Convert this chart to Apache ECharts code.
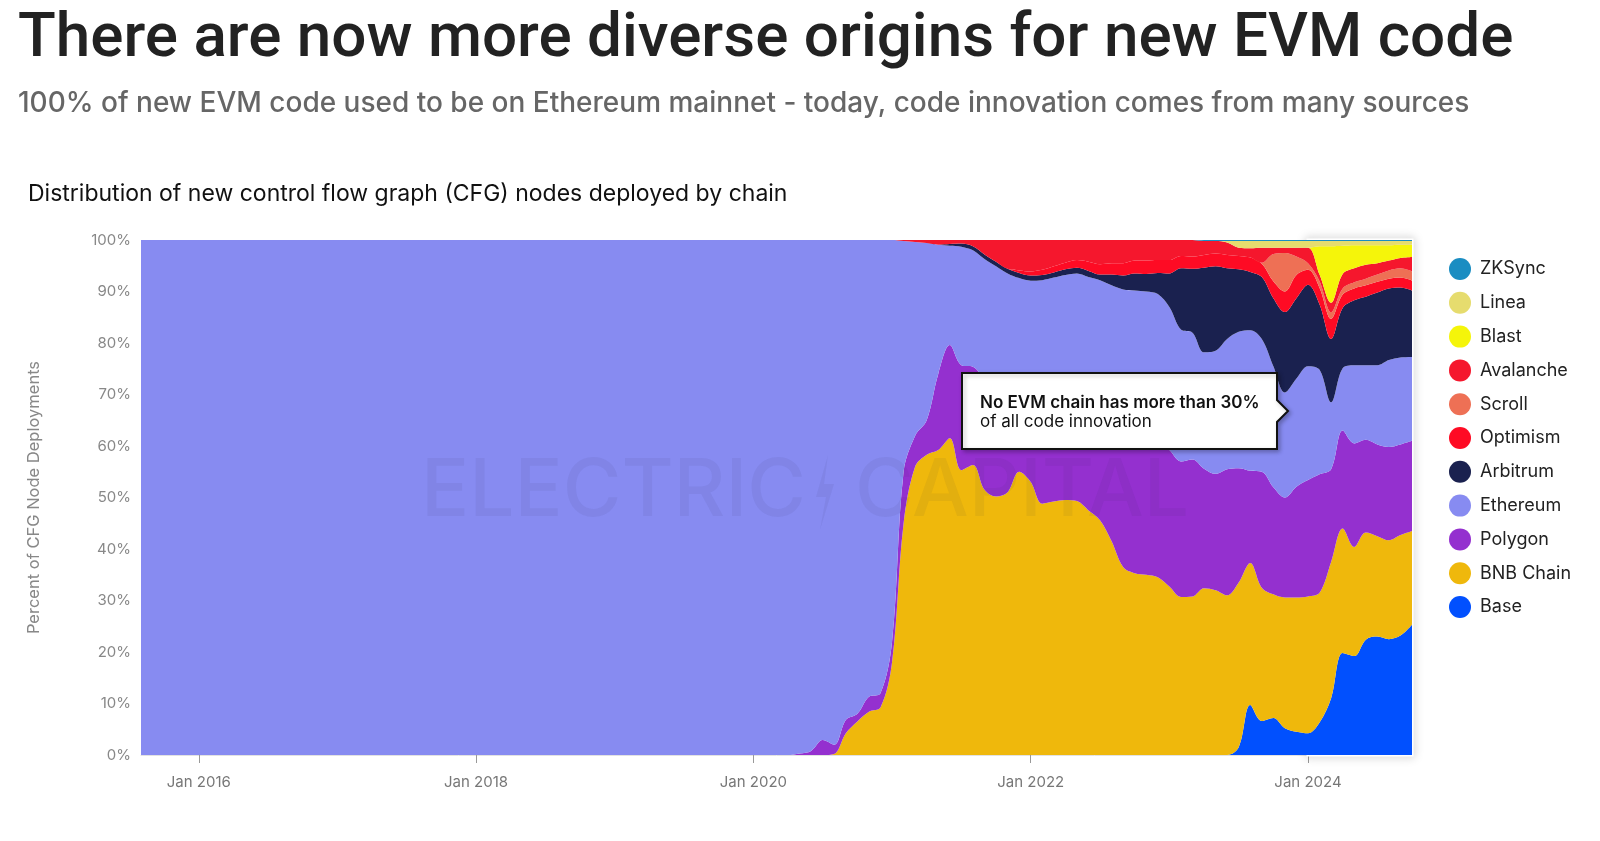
<!DOCTYPE html>
<html>
<head>
<meta charset="utf-8">
<title>New EVM code origins</title>
<script src="https://cdn.jsdelivr.net/npm/echarts@6/dist/echarts.min.js"></script>
<style>
  html, body { margin: 0; padding: 0; background: #fff; }
  #main { width: 1600px; height: 841px; }
</style>
</head>
<body>
<div id="main"></div>
<script>
// axis categories: one per month, Aug 2015 .. Oct 2024
var months = [];
for (var y = 2015; y <= 2024; y++) {
    for (var m = 1; m <= 12; m++) {
        if (y === 2015 && m < 8) continue;
        if (y === 2024 && m > 10) break;
        months.push(y + '-' + (m < 10 ? '0' + m : m));
    }
}
var tickMonths = ['2016-01', '2018-01', '2020-01', '2022-01', '2024-01'];

// two anchor points before 2020, then monthly from Jan 2020
var dates = ['2015-08', '2019-12'].concat(months.slice(months.indexOf('2020-01')));

// share of new CFG nodes per chain, in %
// layout: [2015-08, 2019-12], then 2020 (12), 2021 (12), 2022 (12), 2023 (12), 2024 (Jan-Oct)
var base = [0, 0,
    0, 0, 0, 0, 0, 0, 0, 0, 0, 0, 0, 0,
    0, 0, 0, 0, 0, 0, 0, 0, 0, 0, 0, 0,
    0, 0, 0, 0, 0, 0, 0, 0, 0, 0, 0, 0,
    0, 0, 0, 0, 0, 0, 1.5, 9.7, 6.6, 7.2, 5.2, 4.5,
    4.2, 6.3, 11, 19.8, 19.2, 22.4, 23, 22.5, 23.2, 25.3];
var bnb = [0, 0,
    0, 0, 0, 0, 0, 0, 0, 0.2, 4.2, 6.5, 8.4, 9.2,
    18, 45, 56, 58.3, 59.2, 61.5, 55.3, 56.3, 51.5, 50.2, 51, 55,
    53, 48.8, 49.2, 49.5, 49.3, 47.5, 45.6, 41.5, 36.5, 35.3, 35, 34.5,
    32.7, 30.7, 30.8, 32.4, 32, 31, 32, 27.6, 25.9, 24, 25.4, 26.1,
    26.6, 25.2, 26.5, 24.2, 21.2, 20.8, 19.5, 19.2, 19.5, 18.2];
var polygon = [0, 0,
    0, 0, 0, 0, 0.3, 0.8, 2.9, 1.8, 2.6, 1.5, 2.9, 2.8,
    4, 10, 6, 6.7, 14.8, 18.1, 20.4, 19.1, 21.5, 20.8, 18, 13,
    14, 18.7, 16.8, 16, 16.7, 17.5, 18.4, 22, 26.5, 27.2, 27, 26.5,
    26.5, 26.3, 26.6, 23.2, 22.6, 24.5, 22.2, 17.9, 22.5, 20.8, 19.4, 21.5,
    22.6, 23, 18, 19, 20.1, 18, 17.8, 18.1, 17.6, 17.5];
var ethereum = [100, 100,
    100, 100, 100, 100, 99.7, 99.2, 97.1, 98, 93.2, 92, 88.7, 88,
    78, 44.8, 37.6, 34.4, 25.1, 19.3, 23, 22.6, 23.3, 23.9, 24.5, 24.6,
    25.1, 24.7, 26.7, 27.7, 27.5, 27.8, 28.2, 27.7, 27.4, 27.7, 28, 28.5,
    27.8, 25.6, 24.6, 22.6, 23.9, 25.3, 26.5, 27.3, 25.8, 23.5, 20.4, 21,
    22.1, 20.3, 13, 12.1, 15.2, 14.5, 15.4, 16.9, 16.9, 16.3];
var arbitrum = [0, 0,
    0, 0, 0, 0, 0, 0, 0, 0, 0, 0, 0, 0,
    0, 0, 0, 0, 0, 0.3, 0.6, 0.8, 0.9, 0.9, 0.9, 1.0,
    1.0, 1.0, 1.0, 1.1, 1.1, 1.2, 1.1, 2.1, 2.7, 3.3, 3.4, 4.1,
    6.5, 11.9, 12.4, 16.4, 16.4, 13.7, 12.1, 11.3, 12, 13.2, 15.6, 15.6,
    15.8, 12.7, 12.3, 11.7, 12.6, 13.3, 14.1, 13.9, 13.6, 12.9];
var optimism = [0, 0,
    0, 0, 0, 0, 0, 0, 0, 0, 0, 0, 0, 0,
    0, 0, 0, 0, 0, 0, 0, 0, 0, 0, 0, 0.5,
    0.8, 1, 1.2, 1.3, 1.5, 1.8, 2, 2.2, 2.4, 2.5, 2.6, 2.5,
    2.6, 2.4, 2.4, 2.5, 2.5, 2.6, 2.6, 2.8, 2.6, 3.3, 4, 4.5,
    2.9, 3.2, 3.9, 2.6, 2.3, 2.2, 2.1, 1.9, 1.9, 1.9];
var scroll = [0, 0,
    0, 0, 0, 0, 0, 0, 0, 0, 0, 0, 0, 0,
    0, 0, 0, 0, 0, 0, 0, 0, 0, 0, 0, 0,
    0, 0, 0, 0, 0, 0, 0, 0, 0, 0, 0, 0,
    0, 0, 0, 0, 0, 0, 0, 0, 0.2, 5.3, 7.5, 3.6,
    1.3, 1.3, 1.3, 1.2, 1.2, 1.3, 1.4, 1.6, 1.8, 1.8];
var avalanche = [0, 0,
    0, 0, 0, 0, 0, 0, 0, 0, 0, 0, 0, 0,
    0, 0.2, 0.4, 0.6, 0.9, 0.8, 0.7, 1.2, 2.8, 4.2, 5.6, 5.9,
    6.1, 5.8, 5.1, 4.4, 3.9, 4.2, 4.7, 4.5, 4.5, 4.0, 4.0, 3.9,
    3.9, 3.1, 3.2, 2.7, 2.4, 2.4, 1.6, 1.8, 2.9, 1.2, 1.0, 1.7,
    3.0, 1.3, 1.8, 2.8, 2.7, 2.7, 2.2, 1.9, 2.0, 2.8];
var blast = [0, 0,
    0, 0, 0, 0, 0, 0, 0, 0, 0, 0, 0, 0,
    0, 0, 0, 0, 0, 0, 0, 0, 0, 0, 0, 0,
    0, 0, 0, 0, 0, 0, 0, 0, 0, 0, 0, 0,
    0, 0, 0, 0, 0, 0, 0, 0, 0, 0, 0, 0,
    0, 5.5, 11, 5.5, 4.5, 3.8, 3.5, 3, 2.6, 2.4];
var linea = [0, 0,
    0, 0, 0, 0, 0, 0, 0, 0, 0, 0, 0, 0,
    0, 0, 0, 0, 0, 0, 0, 0, 0, 0, 0, 0,
    0, 0, 0, 0, 0, 0, 0, 0, 0, 0, 0, 0,
    0, 0, 0, 0, 0, 0.3, 1.3, 1.4, 1.3, 1.3, 1.3, 1.3,
    1.3, 1, 1, 0.9, 0.8, 0.8, 0.8, 0.8, 0.7, 0.7];
var zksync = [0, 0,
    0, 0, 0, 0, 0, 0, 0, 0, 0, 0, 0, 0,
    0, 0, 0, 0, 0, 0, 0, 0, 0, 0, 0, 0,
    0, 0, 0, 0, 0, 0, 0, 0, 0, 0, 0, 0,
    0, 0, 0, 0.2, 0.2, 0.2, 0.2, 0.2, 0.2, 0.2, 0.2, 0.2,
    0.2, 0.2, 0.2, 0.2, 0.2, 0.2, 0.2, 0.2, 0.2, 0.2];

// bottom of the stack first
var chains = ['Base', 'BNB Chain', 'Polygon', 'Ethereum', 'Arbitrum', 'Optimism', 'Scroll', 'Avalanche', 'Blast', 'Linea', 'ZKSync'];
var shares = [base, bnb, polygon, ethereum, arbitrum, optimism, scroll, avalanche, blast, linea, zksync];
var colors = ['#0150fe', '#efb80c', '#9430cf', '#878bf1', '#1a214f', '#fe0b24', '#ee7055', '#f5172d', '#f5f50a', '#e6dc6e', '#1a8dc2'];

var myChart = echarts.init(document.getElementById('main'));

var series = chains.map(function (name, i) {
    return {
        name: name,
        type: 'line',
        stack: 'share',
        smooth: 0.35,
        symbol: 'none',
        lineStyle: { width: 0 },
        itemStyle: { color: colors[i] },
        areaStyle: { color: colors[i], opacity: 1 },
        data: dates.map(function (d, j) { return [d, shares[i][j]]; })
    };
});

// 2024 highlight frame, on the top series so it sits over every area
series[series.length - 1].markArea = {
    silent: true,
    itemStyle: {
        color: 'rgba(0,0,0,0)',
        borderColor: '#ffffff',
        borderWidth: 3,
        shadowBlur: 10,
        shadowColor: 'rgba(0,0,0,0.35)'
    },
    data: [[{ xAxis: '2024-01', yAxis: 0 }, { xAxis: '2024-10', yAxis: 100 }]]
};

var wmColor = 'rgba(30,30,70,0.06)';

var option = {
    animation: false,
    backgroundColor: '#ffffff',
    textStyle: { fontFamily: 'Inter' },
    title: [{
        text: 'There are now more diverse origins for new EVM code',
        left: 18, top: 9, padding: 0,
        textStyle: { fontFamily: 'Roboto', fontWeight: 500, fontSize: 62, color: '#222222' }
    }, {
        text: '100% of new EVM code used to be on Ethereum mainnet - today, code innovation comes from many sources',
        left: 18, top: 90, padding: 0,
        textStyle: { fontFamily: 'Inter', fontWeight: 500, fontSize: 28, color: '#666666' }
    }, {
        text: 'Distribution of new control flow graph (CFG) nodes deployed by chain',
        left: 28, top: 183, padding: 0,
        textStyle: { fontFamily: 'Inter', fontWeight: 400, fontSize: 23, color: '#111111' }
    }],
    legend: {
        orient: 'vertical',
        left: 1444, top: 253,
        itemWidth: 22, itemHeight: 22, itemGap: 11.8,
        icon: 'circle',
        data: chains.slice().reverse(),
        textStyle: { fontSize: 18, color: '#222222', padding: [0, 0, 0, 4] }
    },
    grid: { left: 141, right: 188, top: 240, bottom: 86 },
    xAxis: {
        type: 'category',
        data: months,
        boundaryGap: false,
        axisLine: { lineStyle: { color: '#e2e2e2' } },
        axisTick: {
            length: 8,
            lineStyle: { color: '#999999' },
            interval: function (idx, val) { return tickMonths.indexOf(val) >= 0; }
        },
        axisLabel: {
            margin: 20,
            fontSize: 15,
            color: '#777777',
            interval: function (idx, val) { return tickMonths.indexOf(val) >= 0; },
            formatter: function (val) { return 'Jan ' + val.slice(0, 4); }
        },
        splitLine: { show: false }
    },
    yAxis: {
        type: 'value',
        min: 0, max: 100, interval: 10,
        name: 'Percent of CFG Node Deployments',
        nameLocation: 'middle',
        nameGap: 98,
        nameTextStyle: { fontSize: 16.5, color: '#888888' },
        axisLine: { show: false },
        axisTick: { show: false },
        splitLine: { show: false },
        axisLabel: { formatter: '{value}%', fontSize: 15, color: '#888888', margin: 10 }
    },
    graphic: [{
        // faint watermark across the plot
        type: 'text',
        z: 100,
        silent: true,
        style: {
            x: 421, y: 492, text: 'ELECTRIC',
            font: '500 80px Inter',
            fill: wmColor,
            textVerticalAlign: 'middle'
        }
    }, {
        type: 'polygon',
        z: 100,
        silent: true,
        shape: { points: [[828, 455], [816, 497], [826, 497], [820, 530], [834, 484], [824, 484]] },
        style: { fill: wmColor }
    }, {
        type: 'text',
        z: 100,
        silent: true,
        style: {
            x: 855, y: 492, text: 'CAPITAL',
            font: '500 80px Inter',
            fill: wmColor,
            textVerticalAlign: 'middle'
        }
    }, {
        // callout
        type: 'polygon',
        z: 110,
        silent: true,
        shape: { points: [[962, 373], [1277, 373], [1277, 400], [1288, 411], [1277, 422], [1277, 449], [962, 449]] },
        style: { fill: '#ffffff', stroke: '#111111', lineWidth: 2, shadowBlur: 4, shadowOffsetX: 2, shadowOffsetY: 2, shadowColor: 'rgba(0,0,0,0.25)' }
    }, {
        type: 'text',
        z: 111,
        silent: true,
        style: {
            x: 980, y: 403, text: 'No EVM chain has more than 30%',
            font: '600 17px Inter', fill: '#111111', textVerticalAlign: 'middle'
        }
    }, {
        type: 'text',
        z: 111,
        silent: true,
        style: {
            x: 980, y: 422, text: 'of all code innovation',
            font: '400 17px Inter', fill: '#111111', textVerticalAlign: 'middle'
        }
    }],
    series: series
};

myChart.setOption(option);
</script>
</body>
</html>
